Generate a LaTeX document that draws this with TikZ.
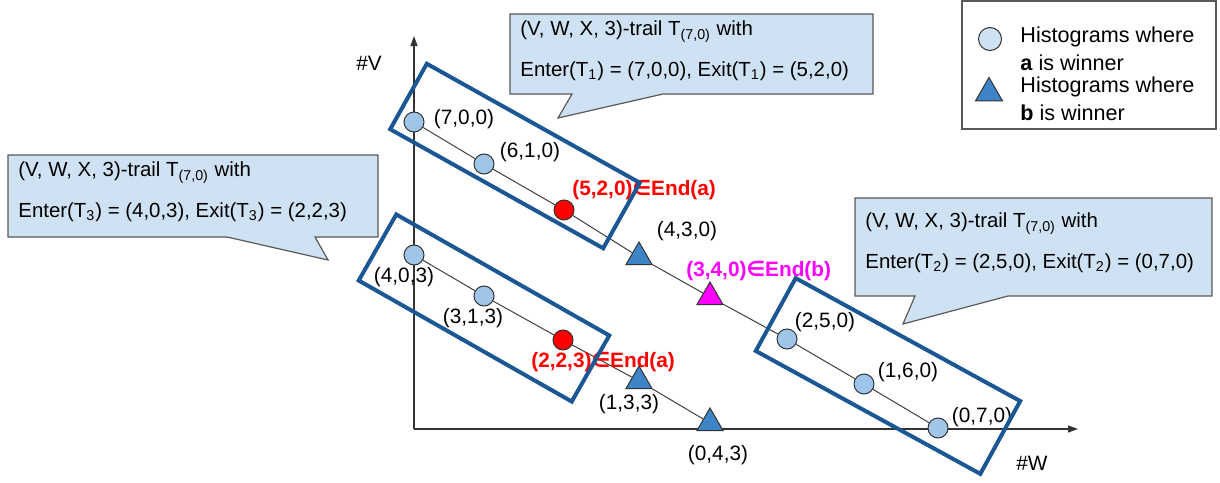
\documentclass[tikz,border=0pt]{standalone}
\usepackage{fontspec}
\setmainfont{Liberation Sans}
\newfontfamily\symfont{DejaVu Sans}
\usepackage{tikz}
\usetikzlibrary{
  arrows.meta,
  positioning,
  shapes.geometric,
  backgrounds
}
\usepackage{xcolor}
\definecolor{ptblue}{HTML}{9FC5E8}
\definecolor{legblue}{HTML}{CFE2F3}
\definecolor{triblue}{HTML}{3D85C6}
\definecolor{boxblue}{HTML}{1A5794}
\definecolor{bubblefill}{HTML}{CFE2F3}
\definecolor{edgegray}{HTML}{595959}
\definecolor{endred}{HTML}{FF0000}
\definecolor{endmag}{HTML}{FF00FF}

\begin{document}
\begin{tikzpicture}[
  x=0.5pt, y=-0.5pt,
  winA/.style={circle, draw=black!80, fill=#1, minimum size=10pt, inner sep=0pt, line width=0.5pt},
  winA/.default=ptblue,
  winB/.style={regular polygon, regular polygon sides=3, draw=black!80, fill=#1, minimum size=15pt, inner sep=0pt, line width=0.5pt},
  winB/.default=triblue,
  lbl/.style={font=\fontsize{10.4}{12.5}\selectfont, inner sep=0pt},
  endlbl/.style={font=\fontsize{10.4}{12.5}\selectfont\bfseries, text=#1, anchor=west, inner sep=0pt},
  trailbox/.style={draw=boxblue, line width=2pt},
  bubble/.style={draw=edgegray, fill=bubblefill, line width=0.6pt},
  bubbletext/.style={anchor=west, align=left, font=\fontsize{10.2}{20.5}\selectfont, inner sep=0pt},
  legtext/.style={anchor=west, align=left, font=\fontsize{10.8}{14}\selectfont, inner sep=0pt},
  axisline/.style={draw=black!80, line width=0.6pt, -{Triangle[length=5pt,width=3.5pt]}},
  trail/.style={draw=black!75, line width=0.5pt}
]
  \useasboundingbox (0,0) rectangle (1220,482);

  % Axes
  \coordinate (o) at (414,429);
  \coordinate (vtip) at (414,36);
  \coordinate (wtip) at (1078,429);
  \node[lbl] (vlabel) at (369,63) {\#V};
  \node[lbl] (wlabel) at (1032,463) {\#W};

  % Histograms with X = 0
  \node[winA] (p700) at (414,122) {};
  \node[winA] (p610) at (484,164) {};
  \node[winA=endred] (p520) at (564,210) {};
  \node[winB] (p430) at (639,257) {};
  \node[winB=endmag] (p340) at (710,297) {};
  \node[winA] (p250) at (787,339) {};
  \node[winA] (p160) at (864,384) {};
  \node[winA] (p070) at (938,428) {};

  % Histograms with X = 3
  \node[winA] (p403) at (414,255) {};
  \node[winA] (p313) at (484,296) {};
  \node[winA=endred] (p223) at (563,340) {};
  \node[winB] (p133) at (639,381) {};
  \node[winB] (p043) at (710,423) {};

  % Point labels
  \node[lbl] at (464,119) {(7,0,0)};
  \node[lbl] at (530,152) {(6,1,0)};
  \node[endlbl=endred] at (572,190) {(5,2,0){\symfont\bfseries ∈}End(a)};
  \node[lbl] at (687,231) {(4,3,0)};
  \node[endlbl=endmag] at (686,271) {(3,4,0){\symfont\bfseries ∈}End(b)};
  \node[lbl] at (825,322) {(2,5,0)};
  \node[lbl] at (908,372) {(1,6,0)};
  \node[lbl] at (982,417) {(0,7,0)};
  \node[lbl] at (404,277) {(4,0,3)};
  \node[lbl] at (473,318) {(3,1,3)};
  \node[endlbl=endred] at (531,362) {(2,2,3){\symfont\bfseries ∈}End(a)};
  \node[lbl] at (629,404) {(1,3,3)};
  \node[lbl] at (718,455) {(0,4,3)};

  \begin{scope}[on background layer]
    \draw[axisline] (o) -- (vtip);
    \draw[axisline] (o) -- (wtip);
    \draw[trail] (p700) -- (p610) -- (p520) -- (p430) -- (p340) -- (p250) -- (p160) -- (p070);
    \draw[trail] (p403) -- (p313) -- (p223) -- (p133) -- (p043);
  \end{scope}

  % Trails
  \node[trailbox, minimum width=122pt, minimum height=37.5pt, rotate=-29.2] (box1) at (515,156) {};
  \node[trailbox, minimum width=128pt, minimum height=41.5pt, rotate=-28.7] (box2) at (888,376) {};
  \node[trailbox, minimum width=122.5pt, minimum height=38pt, rotate=-29.6] (box3) at (484,308) {};

  % Callouts
  \draw[bubble] (510,14) -- (873,14) -- (873,94) -- (663,94) -- (558,118) -- (572,94) -- (510,94) -- cycle;
  \node[bubbletext] (t1text) at (520,51) {(V, W, X, 3)-trail T\textsubscript{(7,0)} with\\Enter(T\textsubscript{1}) = (7,0,0), Exit(T\textsubscript{1}) = (5,2,0)};

  \draw[bubble] (855,198) -- (1212,198) -- (1212,296) -- (1008,296) -- (903,324) -- (915,296) -- (855,296) -- cycle;
  \node[bubbletext] (t2text) at (865,243) {(V, W, X, 3)-trail T\textsubscript{(7,0)} with\\Enter(T\textsubscript{2}) = (2,5,0), Exit(T\textsubscript{2}) = (0,7,0)};

  \draw[bubble] (8,155) -- (378,155) -- (378,237) -- (315,237) -- (328,260) -- (227,237) -- (8,237) -- cycle;
  \node[bubbletext] (t3text) at (18,192) {(V, W, X, 3)-trail T\textsubscript{(7,0)} with\\Enter(T\textsubscript{3}) = (4,0,3), Exit(T\textsubscript{3}) = (2,2,3)};

  % Legend
  \node[draw=edgegray, line width=0.6pt, minimum width=127pt, minimum height=64pt] (legend) at (1089,65) {};
  \node[winA=legblue, minimum size=11.5pt] (legA) at (990,39) {};
  \node[winB, minimum size=15.5pt] (legB) at (989,93) {};
  \node[legtext] (legAtext) at (1020,49) {Histograms where\\\textbf{a} is winner};
  \node[legtext] (legBtext) at (1020,99) {Histograms where\\\textbf{b} is winner};
\end{tikzpicture}
\end{document}
